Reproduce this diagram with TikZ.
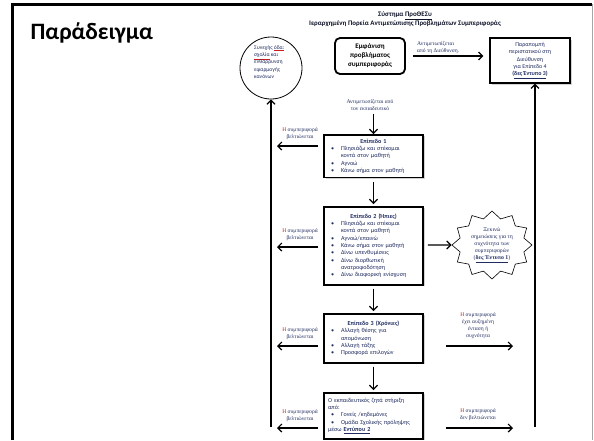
\documentclass[tikz,border=0pt]{standalone}
\usepackage{fontspec}
\setmainfont{Carlito}
\newfontfamily\timesgr{Liberation Serif}
\usetikzlibrary{arrows.meta,shapes.geometric,shapes.symbols,shadows}
\definecolor{navytext}{RGB}{32,44,96}
\definecolor{spellred}{RGB}{200,30,30}
\newcommand{\bul}[1]{\par\noindent\hangindent=13pt\hangafter=1\hspace*{3pt}\makebox[10pt][l]{\textbullet}#1}
\newcommand{\spell}[1]{\textcolor{spellred}{\underline{\textcolor{navytext}{#1}}}}

\begin{document}
\begin{tikzpicture}[x=1pt, y=-1pt,
  lvl/.style={draw, line width=1.5pt, text width=91pt, inner sep=4pt, anchor=north, align=left,
    text=navytext, font=\fontsize{6.1}{7.3}\selectfont, fill=white,
    drop shadow={shadow xshift=1.5pt, shadow yshift=-1.5pt, opacity=0.35}},
  lbl/.style={align=center, text=navytext, font=\timesgr\fontsize{5.6}{7}\selectfont, inner sep=0pt},
  arr/.style={line width=1.3pt, -{Straight Barb[length=4pt, width=8pt, line width=1.2pt]}}]
  \useasboundingbox (0,0) rectangle (594,440);

  % slide frame
  \draw[line width=3pt] (12,440) -- (12,4) -- (592,4);
  \draw[gray!70, line width=0.8pt] (592,4) -- (592,440);

  \node[font=\bfseries\fontsize{23.5}{28}\selectfont, anchor=west] (title) at (27,33) {Παράδειγμα};
  \node[font=\bfseries\fontsize{6.9}{9}\selectfont, align=center, text=navytext!40!black] (head) at (405,19)
    {Σύστημα \underline{ΠροΘΕΣυ}\\Ιεραρχημένη Πορεία Αντιμετώπισης Προβλημάτων Συμπεριφοράς};

  % top row
  \node[draw, ellipse, line width=0.8pt, minimum width=62pt, minimum height=62pt] (circ) at (271,68) {};
  \node[anchor=north west, align=left, text=navytext, font=\fontsize{5.6}{7.3}\selectfont, inner sep=0pt] (circtxt) at (254,45)
    {Συνεχής \spell{όδα:}\\\spell{σχολία} και\\ενθάρρυνση\\εφαρμογής\\κανόνων};
  \node[draw, rounded corners=5pt, line width=1.8pt, align=center, minimum width=70pt, minimum height=36pt,
    font=\bfseries\fontsize{7}{9}\selectfont] (emf) at (370,56) {Εμφάνιση\\προβλήματος\\συμπεριφοράς};
  \node[draw, line width=1.2pt, align=center, minimum width=80pt, minimum height=45pt, text=navytext, inner sep=1pt,
    font=\fontsize{5.9}{7.4}\selectfont, fill=white, drop shadow={shadow xshift=1.5pt, shadow yshift=-1.5pt, opacity=0.35}] (parap) at (530,60.5)
    {Παραπομπή\\περιστατικού στη\\Διεύθυνση\\για Επίπεδο 4\\\textbf{(\underline{δες Έντυπο 3})}};
  \node[lbl, align=left, anchor=south west] (dirlbl) at (417,54) {Αντιμετωπίζεται\\από τη Διεύθυνση.};
  \draw[arr] ([xshift=7pt]emf.east) -- ([xshift=-6pt]emf.east -| parap.west);
  \node[lbl] (teachlbl) at (370,105) {Αντιμετωπίζεται από\\τον εκπαιδευτικό};

  % levels
  \node[lvl, minimum height=40pt] (lvlone) at (373.5,134)
    {{\centering\textbf{Επίπεδο 1}\par}\bul{Πλησιάζω και στέκομαι\newline κοντά στον μαθητή}\bul{Αγνοώ}\bul{Κάνω σήμα στον μαθητή}};
  \node[lvl, minimum height=78pt] (lvltwo) at (373.5,206)
    {{\centering\textbf{Επίπεδο 2 (Ήπιες)}\par}\bul{Πλησιάζω και στέκομαι\newline κοντά στον μαθητή}\bul{Αγνοώ/επαινώ}%
     \bul{Κάνω σήμα στον μαθητή}\bul{Δίνω υπενθυμίσεις}\bul{Δίνω διορθωτική\newline ανατροφοδότηση}\bul{Δίνω διαφορική ενίσχυση}};
  \node[lvl, minimum height=49pt] (lvlthree) at (373.5,313)
    {{\centering\textbf{Επίπεδο 3 (Χρόνιες)}\par}\bul{Αλλαγή θέσης για\newline απομόνωση}\bul{Αλλαγή τάξης}\bul{Προσφορά επιλογών}};
  \node[lvl, minimum height=46pt] (lvlfour) at (373.5,392)
    {Ο εκπαιδευτικός ζητά στήριξη\newline από:\bul{Γονείς /κηδεμόνες}\bul{Ομάδα Σχολικής πρόληψης\newline μέσω \textbf{\underline{Εντύπου 2}}}};

  \node[starburst, draw, line width=0.6pt, starburst points=12, starburst point height=7pt, random starburst=0,
    minimum width=80pt, minimum height=68pt, align=center, text=navytext, font=\timesgr\fontsize{5.8}{7}\selectfont,
    inner sep=0pt] (star) at (492,245)
    {Ξεκινώ\\σημειώσεις για τη\\συχνότητα των\\συμπεριφορών\\(\textbf{\underline{δες Έντυπο 1}})};

  % down arrows
  \draw[arr] ([yshift=-3pt]teachlbl.south -| lvlone.north) -- (lvlone.north);
  \draw[arr, shorten <=4pt, shorten >=2pt] (lvlone.south) -- (lvltwo.north);
  \draw[arr, shorten <=3pt, shorten >=2pt] (lvltwo.south) -- (lvlthree.north);
  \draw[arr, shorten <=3pt, shorten >=2pt] (lvlthree.south) -- (lvlfour.north);

  % improvement arrows to the left
  \coordinate (lout1) at (277,146);
  \coordinate (lout2) at (277,247);
  \coordinate (lout3) at (277,346);
  \coordinate (lout4) at (277,428);
  \foreach \k/\lev in {1/lvlone,2/lvltwo,3/lvlthree,4/lvlfour}{
    \draw[arr, shorten <=5pt] (\lev.west |- lout\k) -- (lout\k);
    \node[lbl, anchor=south] (better\k) at ([xshift=23pt, yshift=6pt]lout\k) {\textcolor{spellred}{Η} συμπεριφορά\\βελτιώνεται};
  }

  % arrows to the right
  \draw[arr, shorten <=4pt] (lvltwo.east |- star) -- (star.west);
  \coordinate (rout3) at (513,346);
  \coordinate (rout4) at (513,428);
  \draw[arr, shorten <=22pt] (lvlthree.east |- rout3) -- (rout3);
  \draw[arr, shorten <=22pt] (lvlfour.east |- rout4) -- (rout4);
  \node[lbl, anchor=south] (worse) at (478,339) {\textcolor{spellred}{Η} συμπεριφορά\\έχει αυξημένη\\ένταση ή\\συχνότητα};
  \node[lbl, anchor=south] (same) at (478,421) {\textcolor{spellred}{Η} συμπεριφορά\\δεν βελτιώνεται};

  % long verticals
  \coordinate (lbot) at (271,427);
  \coordinate (rbot) at (535,427);
  \draw[arr] (lbot) -- (circ.south);
  \draw[arr] (rbot) -- (rbot |- parap.south);
\end{tikzpicture}
\end{document}
